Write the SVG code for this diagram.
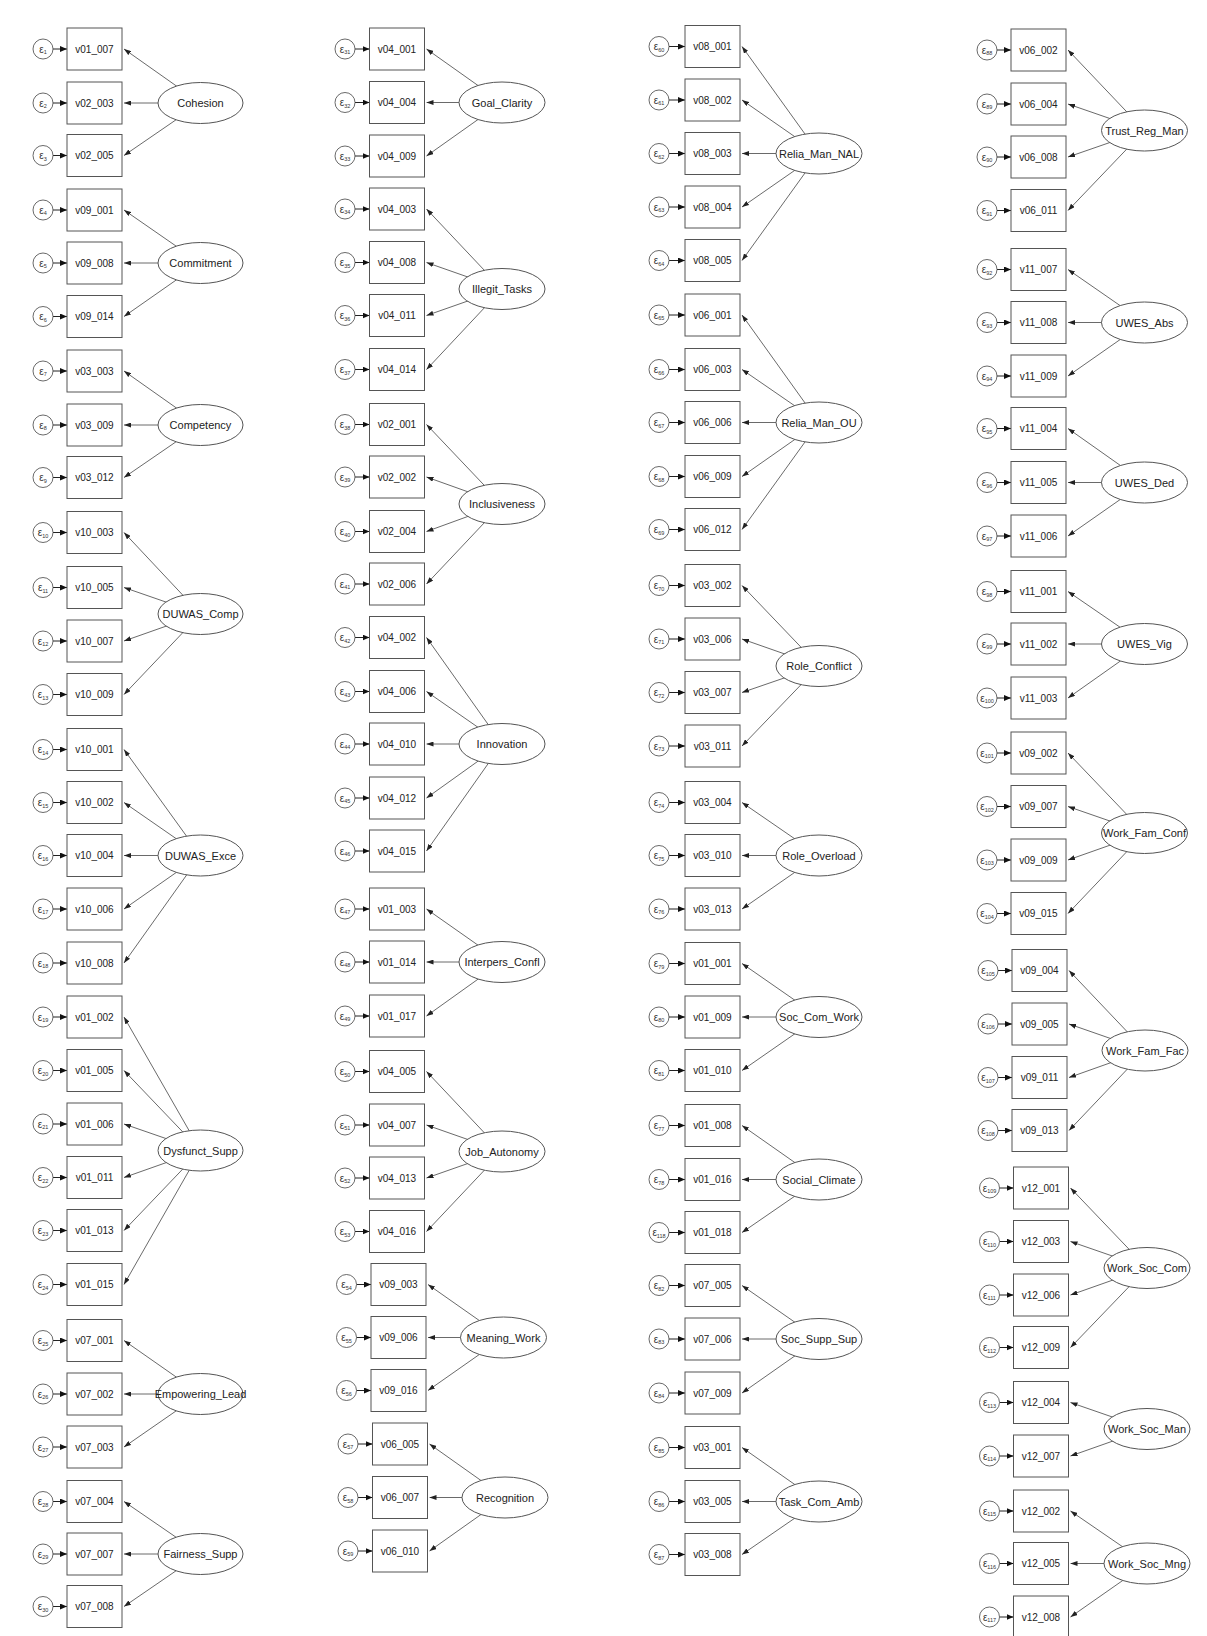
<svg xmlns="http://www.w3.org/2000/svg" width="1207" height="1636" viewBox="0 0 1207 1636">
<style>
.b{fill:#fff;stroke:#555;stroke-width:1}
.t{font-family:"Liberation Sans",Arial,sans-serif;font-size:10px;fill:#222;text-anchor:middle}
.c{fill:#fff;stroke:#444;stroke-width:0.8}
.et{font-family:"Liberation Sans",Arial,sans-serif;font-size:10px;fill:#333;text-anchor:middle}
.s{font-size:5.5px}
.l{fill:#fff;stroke:#555;stroke-width:1}
.lt{font-family:"Liberation Sans",Arial,sans-serif;font-size:11px;fill:#222;text-anchor:middle}
.k line{stroke:#444;stroke-width:0.8;marker-end:url(#ah)}
.ke line{stroke:#222;stroke-width:1;marker-end:url(#ah2)}
</style>
<defs>
<marker id="ah" markerUnits="userSpaceOnUse" markerWidth="7" markerHeight="5" viewBox="0 0 7 5" refX="7" refY="2.5" orient="auto"><path d="M0,0L7,2.5L0,5z" fill="#222"/></marker>
<marker id="ah2" markerUnits="userSpaceOnUse" markerWidth="7" markerHeight="6" viewBox="0 0 7 6" refX="7" refY="3" orient="auto"><path d="M0,0L7,3L0,6z" fill="#111"/></marker>
</defs>
<rect width="1207" height="1636" fill="#fff"/>
<g id="connectors">
<g class="k">
<line x1="200.5" y1="103" x2="124" y2="49"/><line x1="200.5" y1="103" x2="124" y2="103"/><line x1="200.5" y1="103" x2="124" y2="155.5"/>
<line x1="200.5" y1="263" x2="124" y2="210"/><line x1="200.5" y1="263" x2="124" y2="263"/><line x1="200.5" y1="263" x2="124" y2="316.5"/>
<line x1="200.5" y1="425" x2="124" y2="371"/><line x1="200.5" y1="425" x2="124" y2="425"/><line x1="200.5" y1="425" x2="124" y2="477.5"/>
<line x1="200.5" y1="614" x2="124" y2="532.5"/><line x1="200.5" y1="614" x2="124" y2="587.5"/><line x1="200.5" y1="614" x2="124" y2="641"/><line x1="200.5" y1="614" x2="124" y2="694.5"/>
<line x1="200.5" y1="855.5" x2="124" y2="749.5"/><line x1="200.5" y1="855.5" x2="124" y2="802.5"/><line x1="200.5" y1="855.5" x2="124" y2="855.5"/><line x1="200.5" y1="855.5" x2="124" y2="909"/><line x1="200.5" y1="855.5" x2="124" y2="963"/>
<line x1="200.5" y1="1150.5" x2="124" y2="1017"/><line x1="200.5" y1="1150.5" x2="124" y2="1070.5"/><line x1="200.5" y1="1150.5" x2="124" y2="1124"/><line x1="200.5" y1="1150.5" x2="124" y2="1177.5"/><line x1="200.5" y1="1150.5" x2="124" y2="1230.5"/><line x1="200.5" y1="1150.5" x2="124" y2="1284.5"/>
<line x1="200.5" y1="1394" x2="124" y2="1340.5"/><line x1="200.5" y1="1394" x2="124" y2="1394"/><line x1="200.5" y1="1394" x2="124" y2="1447"/>
<line x1="200.5" y1="1554" x2="124" y2="1501.5"/><line x1="200.5" y1="1554" x2="124" y2="1554"/><line x1="200.5" y1="1554" x2="124" y2="1606.5"/>

<line x1="502" y1="102.5" x2="426.5" y2="49"/><line x1="502" y1="102.5" x2="426.5" y2="102.5"/><line x1="502" y1="102.5" x2="426.5" y2="156"/>
<line x1="502" y1="289" x2="426.5" y2="209"/><line x1="502" y1="289" x2="426.5" y2="262.5"/><line x1="502" y1="289" x2="426.5" y2="315.5"/><line x1="502" y1="289" x2="426.5" y2="369.5"/>
<line x1="502" y1="504" x2="426.5" y2="424.5"/><line x1="502" y1="504" x2="426.5" y2="477"/><line x1="502" y1="504" x2="426.5" y2="531.5"/><line x1="502" y1="504" x2="426.5" y2="584"/>
<line x1="502" y1="744" x2="426.5" y2="637.5"/><line x1="502" y1="744" x2="426.5" y2="691.5"/><line x1="502" y1="744" x2="426.5" y2="744"/><line x1="502" y1="744" x2="426.5" y2="798"/><line x1="502" y1="744" x2="426.5" y2="851"/>
<line x1="502" y1="962" x2="426.5" y2="909"/><line x1="502" y1="962" x2="426.5" y2="962"/><line x1="502" y1="962" x2="426.5" y2="1016"/>
<line x1="502" y1="1151.5" x2="426.5" y2="1071.5"/><line x1="502" y1="1151.5" x2="426.5" y2="1125"/><line x1="502" y1="1151.5" x2="426.5" y2="1178"/><line x1="502" y1="1151.5" x2="426.5" y2="1231.5"/>
<line x1="503.5" y1="1337.5" x2="428" y2="1284.5"/><line x1="503.5" y1="1337.5" x2="428" y2="1337.5"/><line x1="503.5" y1="1337.5" x2="428" y2="1390.5"/>
<line x1="505" y1="1497.5" x2="429.5" y2="1444"/><line x1="505" y1="1497.5" x2="429.5" y2="1497.5"/><line x1="505" y1="1497.5" x2="429.5" y2="1551"/>

<line x1="819" y1="153.5" x2="742" y2="46.5"/><line x1="819" y1="153.5" x2="742" y2="100"/><line x1="819" y1="153.5" x2="742" y2="153.5"/><line x1="819" y1="153.5" x2="742" y2="207"/><line x1="819" y1="153.5" x2="742" y2="260.5"/>
<line x1="819" y1="422.5" x2="742" y2="315"/><line x1="819" y1="422.5" x2="742" y2="369.5"/><line x1="819" y1="422.5" x2="742" y2="422.5"/><line x1="819" y1="422.5" x2="742" y2="476.5"/><line x1="819" y1="422.5" x2="742" y2="529.5"/>
<line x1="819" y1="666" x2="742" y2="585.5"/><line x1="819" y1="666" x2="742" y2="639"/><line x1="819" y1="666" x2="742" y2="692.5"/><line x1="819" y1="666" x2="742" y2="746"/>
<line x1="819" y1="855.5" x2="742" y2="802.5"/><line x1="819" y1="855.5" x2="742" y2="855.5"/><line x1="819" y1="855.5" x2="742" y2="909"/>
<line x1="819" y1="1017" x2="742" y2="963.5"/><line x1="819" y1="1017" x2="742" y2="1017"/><line x1="819" y1="1017" x2="742" y2="1070.5"/>
<line x1="819" y1="1179.5" x2="742" y2="1125.5"/><line x1="819" y1="1179.5" x2="742" y2="1179.5"/><line x1="819" y1="1179.5" x2="742" y2="1232.5"/>
<line x1="819" y1="1339" x2="742" y2="1285.5"/><line x1="819" y1="1339" x2="742" y2="1339"/><line x1="819" y1="1339" x2="742" y2="1393"/>
<line x1="819" y1="1501.5" x2="742" y2="1447.5"/><line x1="819" y1="1501.5" x2="742" y2="1501.5"/><line x1="819" y1="1501.5" x2="742" y2="1554.5"/>

<line x1="1144.5" y1="130.5" x2="1068" y2="50"/><line x1="1144.5" y1="130.5" x2="1068" y2="104"/><line x1="1144.5" y1="130.5" x2="1068" y2="157"/><line x1="1144.5" y1="130.5" x2="1068" y2="210.5"/>
<line x1="1144.5" y1="322.5" x2="1068" y2="269.5"/><line x1="1144.5" y1="322.5" x2="1068" y2="322.5"/><line x1="1144.5" y1="322.5" x2="1068" y2="376"/>
<line x1="1144.5" y1="482.5" x2="1068" y2="428.5"/><line x1="1144.5" y1="482.5" x2="1068" y2="482.5"/><line x1="1144.5" y1="482.5" x2="1068" y2="536"/>
<line x1="1144.5" y1="644" x2="1068" y2="591.5"/><line x1="1144.5" y1="644" x2="1068" y2="644"/><line x1="1144.5" y1="644" x2="1068" y2="698"/>
<line x1="1144.5" y1="833" x2="1068" y2="753"/><line x1="1144.5" y1="833" x2="1068" y2="806.5"/><line x1="1144.5" y1="833" x2="1068" y2="860"/><line x1="1144.5" y1="833" x2="1068" y2="913.5"/>
<line x1="1145" y1="1050.5" x2="1069" y2="970.5"/><line x1="1145" y1="1050.5" x2="1069" y2="1024"/><line x1="1145" y1="1050.5" x2="1069" y2="1077.5"/><line x1="1145" y1="1050.5" x2="1069" y2="1130.5"/>
<line x1="1147" y1="1268" x2="1070.5" y2="1188"/><line x1="1147" y1="1268" x2="1070.5" y2="1241.5"/><line x1="1147" y1="1268" x2="1070.5" y2="1295"/><line x1="1147" y1="1268" x2="1070.5" y2="1347.5"/>
<line x1="1147" y1="1429" x2="1070.5" y2="1402.5"/><line x1="1147" y1="1429" x2="1070.5" y2="1456"/>
<line x1="1147" y1="1563.5" x2="1070.5" y2="1511"/><line x1="1147" y1="1563.5" x2="1070.5" y2="1563.5"/><line x1="1147" y1="1563.5" x2="1070.5" y2="1617"/>
</g>
<g class="ke">
<line x1="53" y1="49" x2="67" y2="49"/><line x1="53" y1="103" x2="67" y2="103"/><line x1="53" y1="155.5" x2="67" y2="155.5"/><line x1="53" y1="210" x2="67" y2="210"/><line x1="53" y1="263" x2="67" y2="263"/><line x1="53" y1="316.5" x2="67" y2="316.5"/><line x1="53" y1="371" x2="67" y2="371"/><line x1="53" y1="425" x2="67" y2="425"/><line x1="53" y1="477.5" x2="67" y2="477.5"/><line x1="53" y1="532.5" x2="67" y2="532.5"/><line x1="53" y1="587.5" x2="67" y2="587.5"/><line x1="53" y1="641" x2="67" y2="641"/><line x1="53" y1="694.5" x2="67" y2="694.5"/><line x1="53" y1="749.5" x2="67" y2="749.5"/><line x1="53" y1="802.5" x2="67" y2="802.5"/><line x1="53" y1="855.5" x2="67" y2="855.5"/><line x1="53" y1="909" x2="67" y2="909"/><line x1="53" y1="963" x2="67" y2="963"/><line x1="53" y1="1017" x2="67" y2="1017"/><line x1="53" y1="1070.5" x2="67" y2="1070.5"/><line x1="53" y1="1124" x2="67" y2="1124"/><line x1="53" y1="1177.5" x2="67" y2="1177.5"/><line x1="53" y1="1230.5" x2="67" y2="1230.5"/><line x1="53" y1="1284.5" x2="67" y2="1284.5"/><line x1="53" y1="1340.5" x2="67" y2="1340.5"/><line x1="53" y1="1394" x2="67" y2="1394"/><line x1="53" y1="1447" x2="67" y2="1447"/><line x1="53" y1="1501.5" x2="67" y2="1501.5"/><line x1="53" y1="1554" x2="67" y2="1554"/><line x1="53" y1="1606.5" x2="67" y2="1606.5"/>
<line x1="355" y1="49" x2="369.5" y2="49"/><line x1="355" y1="102.5" x2="369.5" y2="102.5"/><line x1="355" y1="156" x2="369.5" y2="156"/><line x1="355" y1="209" x2="369.5" y2="209"/><line x1="355" y1="262.5" x2="369.5" y2="262.5"/><line x1="355" y1="315.5" x2="369.5" y2="315.5"/><line x1="355" y1="369.5" x2="369.5" y2="369.5"/><line x1="355" y1="424.5" x2="369.5" y2="424.5"/><line x1="355" y1="477" x2="369.5" y2="477"/><line x1="355" y1="531.5" x2="369.5" y2="531.5"/><line x1="355" y1="584" x2="369.5" y2="584"/><line x1="355" y1="637.5" x2="369.5" y2="637.5"/><line x1="355" y1="691.5" x2="369.5" y2="691.5"/><line x1="355" y1="744" x2="369.5" y2="744"/><line x1="355" y1="798" x2="369.5" y2="798"/><line x1="355" y1="851" x2="369.5" y2="851"/><line x1="355" y1="909" x2="369.5" y2="909"/><line x1="355" y1="962" x2="369.5" y2="962"/><line x1="355" y1="1016" x2="369.5" y2="1016"/><line x1="355" y1="1071.5" x2="369.5" y2="1071.5"/><line x1="355" y1="1125" x2="369.5" y2="1125"/><line x1="355" y1="1178" x2="369.5" y2="1178"/><line x1="355" y1="1231.5" x2="369.5" y2="1231.5"/><line x1="356.5" y1="1284.5" x2="371" y2="1284.5"/><line x1="356.5" y1="1337.5" x2="371" y2="1337.5"/><line x1="356.5" y1="1390.5" x2="371" y2="1390.5"/><line x1="358" y1="1444" x2="372.5" y2="1444"/><line x1="358" y1="1497.5" x2="372.5" y2="1497.5"/><line x1="358" y1="1551" x2="372.5" y2="1551"/>
<line x1="669" y1="46.5" x2="685" y2="46.5"/><line x1="669" y1="100" x2="685" y2="100"/><line x1="669" y1="153.5" x2="685" y2="153.5"/><line x1="669" y1="207" x2="685" y2="207"/><line x1="669" y1="260.5" x2="685" y2="260.5"/><line x1="669" y1="315" x2="685" y2="315"/><line x1="669" y1="369.5" x2="685" y2="369.5"/><line x1="669" y1="422.5" x2="685" y2="422.5"/><line x1="669" y1="476.5" x2="685" y2="476.5"/><line x1="669" y1="529.5" x2="685" y2="529.5"/><line x1="669" y1="585.5" x2="685" y2="585.5"/><line x1="669" y1="639" x2="685" y2="639"/><line x1="669" y1="692.5" x2="685" y2="692.5"/><line x1="669" y1="746" x2="685" y2="746"/><line x1="669" y1="802.5" x2="685" y2="802.5"/><line x1="669" y1="855.5" x2="685" y2="855.5"/><line x1="669" y1="909" x2="685" y2="909"/><line x1="669" y1="963.5" x2="685" y2="963.5"/><line x1="669" y1="1017" x2="685" y2="1017"/><line x1="669" y1="1070.5" x2="685" y2="1070.5"/><line x1="669" y1="1125.5" x2="685" y2="1125.5"/><line x1="669" y1="1179.5" x2="685" y2="1179.5"/><line x1="669" y1="1232.5" x2="685" y2="1232.5"/><line x1="669" y1="1285.5" x2="685" y2="1285.5"/><line x1="669" y1="1339" x2="685" y2="1339"/><line x1="669" y1="1393" x2="685" y2="1393"/><line x1="669" y1="1447.5" x2="685" y2="1447.5"/><line x1="669" y1="1501.5" x2="685" y2="1501.5"/><line x1="669" y1="1554.5" x2="685" y2="1554.5"/>
<line x1="997" y1="50" x2="1011" y2="50"/><line x1="997" y1="104" x2="1011" y2="104"/><line x1="997" y1="157" x2="1011" y2="157"/><line x1="997" y1="210.5" x2="1011" y2="210.5"/><line x1="997" y1="269.5" x2="1011" y2="269.5"/><line x1="997" y1="322.5" x2="1011" y2="322.5"/><line x1="997" y1="376" x2="1011" y2="376"/><line x1="997" y1="428.5" x2="1011" y2="428.5"/><line x1="997" y1="482.5" x2="1011" y2="482.5"/><line x1="997" y1="536" x2="1011" y2="536"/><line x1="997" y1="591.5" x2="1011" y2="591.5"/><line x1="997" y1="644" x2="1011" y2="644"/><line x1="997" y1="698" x2="1011" y2="698"/><line x1="997" y1="753" x2="1011" y2="753"/><line x1="997" y1="806.5" x2="1011" y2="806.5"/><line x1="997" y1="860" x2="1011" y2="860"/><line x1="997" y1="913.5" x2="1011" y2="913.5"/><line x1="998" y1="970.5" x2="1012" y2="970.5"/><line x1="998" y1="1024" x2="1012" y2="1024"/><line x1="998" y1="1077.5" x2="1012" y2="1077.5"/><line x1="998" y1="1130.5" x2="1012" y2="1130.5"/><line x1="999.5" y1="1188" x2="1013.5" y2="1188"/><line x1="999.5" y1="1241.5" x2="1013.5" y2="1241.5"/><line x1="999.5" y1="1295" x2="1013.5" y2="1295"/><line x1="999.5" y1="1347.5" x2="1013.5" y2="1347.5"/><line x1="999.5" y1="1402.5" x2="1013.5" y2="1402.5"/><line x1="999.5" y1="1456" x2="1013.5" y2="1456"/><line x1="999.5" y1="1511" x2="1013.5" y2="1511"/><line x1="999.5" y1="1563.5" x2="1013.5" y2="1563.5"/><line x1="999.5" y1="1617" x2="1013.5" y2="1617"/>
</g>
</g>

<g id="latent">
<g id="Cohesion"><ellipse class="l" cx="200.5" cy="103" rx="42.5" ry="20.5"/><text class="lt" x="200.5" y="107">Cohesion</text></g>
<g id="Commitment"><ellipse class="l" cx="200.5" cy="263" rx="42.5" ry="20.5"/><text class="lt" x="200.5" y="267">Commitment</text></g>
<g id="Competency"><ellipse class="l" cx="200.5" cy="425" rx="42.5" ry="20.5"/><text class="lt" x="200.5" y="429">Competency</text></g>
<g id="DUWAS_Comp"><ellipse class="l" cx="200.5" cy="614" rx="42.5" ry="20.5"/><text class="lt" x="200.5" y="618">DUWAS_Comp</text></g>
<g id="DUWAS_Exce"><ellipse class="l" cx="200.5" cy="855.5" rx="42.5" ry="20.5"/><text class="lt" x="200.5" y="859.5">DUWAS_Exce</text></g>
<g id="Dysfunct_Supp"><ellipse class="l" cx="200.5" cy="1150.5" rx="42.5" ry="20.5"/><text class="lt" x="200.5" y="1154.5">Dysfunct_Supp</text></g>
<g id="Empowering_Lead"><ellipse class="l" cx="200.5" cy="1394" rx="42.5" ry="20.5"/><text class="lt" x="200.5" y="1398">Empowering_Lead</text></g>
<g id="Fairness_Supp"><ellipse class="l" cx="200.5" cy="1554" rx="42.5" ry="20.5"/><text class="lt" x="200.5" y="1558">Fairness_Supp</text></g>
<g id="Goal_Clarity"><ellipse class="l" cx="502" cy="102.5" rx="43" ry="20.5"/><text class="lt" x="502" y="106.5">Goal_Clarity</text></g>
<g id="Illegit_Tasks"><ellipse class="l" cx="502" cy="289" rx="43" ry="20.5"/><text class="lt" x="502" y="293">Illegit_Tasks</text></g>
<g id="Inclusiveness"><ellipse class="l" cx="502" cy="504" rx="43" ry="20.5"/><text class="lt" x="502" y="508">Inclusiveness</text></g>
<g id="Innovation"><ellipse class="l" cx="502" cy="744" rx="43" ry="20.5"/><text class="lt" x="502" y="748">Innovation</text></g>
<g id="Interpers_Confl"><ellipse class="l" cx="502" cy="962" rx="43" ry="20.5"/><text class="lt" x="502" y="966">Interpers_Confl</text></g>
<g id="Job_Autonomy"><ellipse class="l" cx="502" cy="1151.5" rx="43" ry="20.5"/><text class="lt" x="502" y="1155.5">Job_Autonomy</text></g>
<g id="Meaning_Work"><ellipse class="l" cx="503.5" cy="1337.5" rx="43" ry="20.5"/><text class="lt" x="503.5" y="1341.5">Meaning_Work</text></g>
<g id="Recognition"><ellipse class="l" cx="505" cy="1497.5" rx="43" ry="20.5"/><text class="lt" x="505" y="1501.5">Recognition</text></g>
<g id="Relia_Man_NAL"><ellipse class="l" cx="819" cy="153.5" rx="43" ry="20.5"/><text class="lt" x="819" y="157.5">Relia_Man_NAL</text></g>
<g id="Relia_Man_OU"><ellipse class="l" cx="819" cy="422.5" rx="43" ry="20.5"/><text class="lt" x="819" y="426.5">Relia_Man_OU</text></g>
<g id="Role_Conflict"><ellipse class="l" cx="819" cy="666" rx="43" ry="20.5"/><text class="lt" x="819" y="670">Role_Conflict</text></g>
<g id="Role_Overload"><ellipse class="l" cx="819" cy="855.5" rx="43" ry="20.5"/><text class="lt" x="819" y="859.5">Role_Overload</text></g>
<g id="Soc_Com_Work"><ellipse class="l" cx="819" cy="1017" rx="43" ry="20.5"/><text class="lt" x="819" y="1021">Soc_Com_Work</text></g>
<g id="Social_Climate"><ellipse class="l" cx="819" cy="1179.5" rx="43" ry="20.5"/><text class="lt" x="819" y="1183.5">Social_Climate</text></g>
<g id="Soc_Supp_Sup"><ellipse class="l" cx="819" cy="1339" rx="43" ry="20.5"/><text class="lt" x="819" y="1343">Soc_Supp_Sup</text></g>
<g id="Task_Com_Amb"><ellipse class="l" cx="819" cy="1501.5" rx="43" ry="20.5"/><text class="lt" x="819" y="1505.5">Task_Com_Amb</text></g>
<g id="Trust_Reg_Man"><ellipse class="l" cx="1144.5" cy="130.5" rx="43" ry="20.5"/><text class="lt" x="1144.5" y="134.5">Trust_Reg_Man</text></g>
<g id="UWES_Abs"><ellipse class="l" cx="1144.5" cy="322.5" rx="43" ry="20.5"/><text class="lt" x="1144.5" y="326.5">UWES_Abs</text></g>
<g id="UWES_Ded"><ellipse class="l" cx="1144.5" cy="482.5" rx="43" ry="20.5"/><text class="lt" x="1144.5" y="486.5">UWES_Ded</text></g>
<g id="UWES_Vig"><ellipse class="l" cx="1144.5" cy="644" rx="43" ry="20.5"/><text class="lt" x="1144.5" y="648">UWES_Vig</text></g>
<g id="Work_Fam_Conf"><ellipse class="l" cx="1144.5" cy="833" rx="43" ry="20.5"/><text class="lt" x="1144.5" y="837">Work_Fam_Conf</text></g>
<g id="Work_Fam_Fac"><ellipse class="l" cx="1145" cy="1050.5" rx="43" ry="20.5"/><text class="lt" x="1145" y="1054.5">Work_Fam_Fac</text></g>
<g id="Work_Soc_Com"><ellipse class="l" cx="1147" cy="1268" rx="43" ry="20.5"/><text class="lt" x="1147" y="1272">Work_Soc_Com</text></g>
<g id="Work_Soc_Man"><ellipse class="l" cx="1147" cy="1429" rx="43" ry="20.5"/><text class="lt" x="1147" y="1433">Work_Soc_Man</text></g>
<g id="Work_Soc_Mng"><ellipse class="l" cx="1147" cy="1563.5" rx="43" ry="20.5"/><text class="lt" x="1147" y="1567.5">Work_Soc_Mng</text></g>
</g>

<g id="observed">
<g id="o_v01_007" transform="translate(67,49)"><rect class="b" y="-21" width="55" height="42"/><text class="t" x="27.5" y="3.5">v01_007</text></g>
<g id="o_v02_003" transform="translate(67,103)"><rect class="b" y="-21" width="55" height="42"/><text class="t" x="27.5" y="3.5">v02_003</text></g>
<g id="o_v02_005" transform="translate(67,155.5)"><rect class="b" y="-21" width="55" height="42"/><text class="t" x="27.5" y="3.5">v02_005</text></g>
<g id="o_v09_001" transform="translate(67,210)"><rect class="b" y="-21" width="55" height="42"/><text class="t" x="27.5" y="3.5">v09_001</text></g>
<g id="o_v09_008" transform="translate(67,263)"><rect class="b" y="-21" width="55" height="42"/><text class="t" x="27.5" y="3.5">v09_008</text></g>
<g id="o_v09_014" transform="translate(67,316.5)"><rect class="b" y="-21" width="55" height="42"/><text class="t" x="27.5" y="3.5">v09_014</text></g>
<g id="o_v03_003" transform="translate(67,371)"><rect class="b" y="-21" width="55" height="42"/><text class="t" x="27.5" y="3.5">v03_003</text></g>
<g id="o_v03_009" transform="translate(67,425)"><rect class="b" y="-21" width="55" height="42"/><text class="t" x="27.5" y="3.5">v03_009</text></g>
<g id="o_v03_012" transform="translate(67,477.5)"><rect class="b" y="-21" width="55" height="42"/><text class="t" x="27.5" y="3.5">v03_012</text></g>
<g id="o_v10_003" transform="translate(67,532.5)"><rect class="b" y="-21" width="55" height="42"/><text class="t" x="27.5" y="3.5">v10_003</text></g>
<g id="o_v10_005" transform="translate(67,587.5)"><rect class="b" y="-21" width="55" height="42"/><text class="t" x="27.5" y="3.5">v10_005</text></g>
<g id="o_v10_007" transform="translate(67,641)"><rect class="b" y="-21" width="55" height="42"/><text class="t" x="27.5" y="3.5">v10_007</text></g>
<g id="o_v10_009" transform="translate(67,694.5)"><rect class="b" y="-21" width="55" height="42"/><text class="t" x="27.5" y="3.5">v10_009</text></g>
<g id="o_v10_001" transform="translate(67,749.5)"><rect class="b" y="-21" width="55" height="42"/><text class="t" x="27.5" y="3.5">v10_001</text></g>
<g id="o_v10_002" transform="translate(67,802.5)"><rect class="b" y="-21" width="55" height="42"/><text class="t" x="27.5" y="3.5">v10_002</text></g>
<g id="o_v10_004" transform="translate(67,855.5)"><rect class="b" y="-21" width="55" height="42"/><text class="t" x="27.5" y="3.5">v10_004</text></g>
<g id="o_v10_006" transform="translate(67,909)"><rect class="b" y="-21" width="55" height="42"/><text class="t" x="27.5" y="3.5">v10_006</text></g>
<g id="o_v10_008" transform="translate(67,963)"><rect class="b" y="-21" width="55" height="42"/><text class="t" x="27.5" y="3.5">v10_008</text></g>
<g id="o_v01_002" transform="translate(67,1017)"><rect class="b" y="-21" width="55" height="42"/><text class="t" x="27.5" y="3.5">v01_002</text></g>
<g id="o_v01_005" transform="translate(67,1070.5)"><rect class="b" y="-21" width="55" height="42"/><text class="t" x="27.5" y="3.5">v01_005</text></g>
<g id="o_v01_006" transform="translate(67,1124)"><rect class="b" y="-21" width="55" height="42"/><text class="t" x="27.5" y="3.5">v01_006</text></g>
<g id="o_v01_011" transform="translate(67,1177.5)"><rect class="b" y="-21" width="55" height="42"/><text class="t" x="27.5" y="3.5">v01_011</text></g>
<g id="o_v01_013" transform="translate(67,1230.5)"><rect class="b" y="-21" width="55" height="42"/><text class="t" x="27.5" y="3.5">v01_013</text></g>
<g id="o_v01_015" transform="translate(67,1284.5)"><rect class="b" y="-21" width="55" height="42"/><text class="t" x="27.5" y="3.5">v01_015</text></g>
<g id="o_v07_001" transform="translate(67,1340.5)"><rect class="b" y="-21" width="55" height="42"/><text class="t" x="27.5" y="3.5">v07_001</text></g>
<g id="o_v07_002" transform="translate(67,1394)"><rect class="b" y="-21" width="55" height="42"/><text class="t" x="27.5" y="3.5">v07_002</text></g>
<g id="o_v07_003" transform="translate(67,1447)"><rect class="b" y="-21" width="55" height="42"/><text class="t" x="27.5" y="3.5">v07_003</text></g>
<g id="o_v07_004" transform="translate(67,1501.5)"><rect class="b" y="-21" width="55" height="42"/><text class="t" x="27.5" y="3.5">v07_004</text></g>
<g id="o_v07_007" transform="translate(67,1554)"><rect class="b" y="-21" width="55" height="42"/><text class="t" x="27.5" y="3.5">v07_007</text></g>
<g id="o_v07_008" transform="translate(67,1606.5)"><rect class="b" y="-21" width="55" height="42"/><text class="t" x="27.5" y="3.5">v07_008</text></g>

<g id="o_v04_001" transform="translate(369.5,49)"><rect class="b" y="-21" width="55" height="42"/><text class="t" x="27.5" y="3.5">v04_001</text></g>
<g id="o_v04_004" transform="translate(369.5,102.5)"><rect class="b" y="-21" width="55" height="42"/><text class="t" x="27.5" y="3.5">v04_004</text></g>
<g id="o_v04_009" transform="translate(369.5,156)"><rect class="b" y="-21" width="55" height="42"/><text class="t" x="27.5" y="3.5">v04_009</text></g>
<g id="o_v04_003" transform="translate(369.5,209)"><rect class="b" y="-21" width="55" height="42"/><text class="t" x="27.5" y="3.5">v04_003</text></g>
<g id="o_v04_008" transform="translate(369.5,262.5)"><rect class="b" y="-21" width="55" height="42"/><text class="t" x="27.5" y="3.5">v04_008</text></g>
<g id="o_v04_011" transform="translate(369.5,315.5)"><rect class="b" y="-21" width="55" height="42"/><text class="t" x="27.5" y="3.5">v04_011</text></g>
<g id="o_v04_014" transform="translate(369.5,369.5)"><rect class="b" y="-21" width="55" height="42"/><text class="t" x="27.5" y="3.5">v04_014</text></g>
<g id="o_v02_001" transform="translate(369.5,424.5)"><rect class="b" y="-21" width="55" height="42"/><text class="t" x="27.5" y="3.5">v02_001</text></g>
<g id="o_v02_002" transform="translate(369.5,477)"><rect class="b" y="-21" width="55" height="42"/><text class="t" x="27.5" y="3.5">v02_002</text></g>
<g id="o_v02_004" transform="translate(369.5,531.5)"><rect class="b" y="-21" width="55" height="42"/><text class="t" x="27.5" y="3.5">v02_004</text></g>
<g id="o_v02_006" transform="translate(369.5,584)"><rect class="b" y="-21" width="55" height="42"/><text class="t" x="27.5" y="3.5">v02_006</text></g>
<g id="o_v04_002" transform="translate(369.5,637.5)"><rect class="b" y="-21" width="55" height="42"/><text class="t" x="27.5" y="3.5">v04_002</text></g>
<g id="o_v04_006" transform="translate(369.5,691.5)"><rect class="b" y="-21" width="55" height="42"/><text class="t" x="27.5" y="3.5">v04_006</text></g>
<g id="o_v04_010" transform="translate(369.5,744)"><rect class="b" y="-21" width="55" height="42"/><text class="t" x="27.5" y="3.5">v04_010</text></g>
<g id="o_v04_012" transform="translate(369.5,798)"><rect class="b" y="-21" width="55" height="42"/><text class="t" x="27.5" y="3.5">v04_012</text></g>
<g id="o_v04_015" transform="translate(369.5,851)"><rect class="b" y="-21" width="55" height="42"/><text class="t" x="27.5" y="3.5">v04_015</text></g>
<g id="o_v01_003" transform="translate(369.5,909)"><rect class="b" y="-21" width="55" height="42"/><text class="t" x="27.5" y="3.5">v01_003</text></g>
<g id="o_v01_014" transform="translate(369.5,962)"><rect class="b" y="-21" width="55" height="42"/><text class="t" x="27.5" y="3.5">v01_014</text></g>
<g id="o_v01_017" transform="translate(369.5,1016)"><rect class="b" y="-21" width="55" height="42"/><text class="t" x="27.5" y="3.5">v01_017</text></g>
<g id="o_v04_005" transform="translate(369.5,1071.5)"><rect class="b" y="-21" width="55" height="42"/><text class="t" x="27.5" y="3.5">v04_005</text></g>
<g id="o_v04_007" transform="translate(369.5,1125)"><rect class="b" y="-21" width="55" height="42"/><text class="t" x="27.5" y="3.5">v04_007</text></g>
<g id="o_v04_013" transform="translate(369.5,1178)"><rect class="b" y="-21" width="55" height="42"/><text class="t" x="27.5" y="3.5">v04_013</text></g>
<g id="o_v04_016" transform="translate(369.5,1231.5)"><rect class="b" y="-21" width="55" height="42"/><text class="t" x="27.5" y="3.5">v04_016</text></g>
<g id="o_v09_003" transform="translate(371,1284.5)"><rect class="b" y="-21" width="55" height="42"/><text class="t" x="27.5" y="3.5">v09_003</text></g>
<g id="o_v09_006" transform="translate(371,1337.5)"><rect class="b" y="-21" width="55" height="42"/><text class="t" x="27.5" y="3.5">v09_006</text></g>
<g id="o_v09_016" transform="translate(371,1390.5)"><rect class="b" y="-21" width="55" height="42"/><text class="t" x="27.5" y="3.5">v09_016</text></g>
<g id="o_v06_005" transform="translate(372.5,1444)"><rect class="b" y="-21" width="55" height="42"/><text class="t" x="27.5" y="3.5">v06_005</text></g>
<g id="o_v06_007" transform="translate(372.5,1497.5)"><rect class="b" y="-21" width="55" height="42"/><text class="t" x="27.5" y="3.5">v06_007</text></g>
<g id="o_v06_010" transform="translate(372.5,1551)"><rect class="b" y="-21" width="55" height="42"/><text class="t" x="27.5" y="3.5">v06_010</text></g>

<g id="o_v08_001" transform="translate(685,46.5)"><rect class="b" y="-21" width="55" height="42"/><text class="t" x="27.5" y="3.5">v08_001</text></g>
<g id="o_v08_002" transform="translate(685,100)"><rect class="b" y="-21" width="55" height="42"/><text class="t" x="27.5" y="3.5">v08_002</text></g>
<g id="o_v08_003" transform="translate(685,153.5)"><rect class="b" y="-21" width="55" height="42"/><text class="t" x="27.5" y="3.5">v08_003</text></g>
<g id="o_v08_004" transform="translate(685,207)"><rect class="b" y="-21" width="55" height="42"/><text class="t" x="27.5" y="3.5">v08_004</text></g>
<g id="o_v08_005" transform="translate(685,260.5)"><rect class="b" y="-21" width="55" height="42"/><text class="t" x="27.5" y="3.5">v08_005</text></g>
<g id="o_v06_001" transform="translate(685,315)"><rect class="b" y="-21" width="55" height="42"/><text class="t" x="27.5" y="3.5">v06_001</text></g>
<g id="o_v06_003" transform="translate(685,369.5)"><rect class="b" y="-21" width="55" height="42"/><text class="t" x="27.5" y="3.5">v06_003</text></g>
<g id="o_v06_006" transform="translate(685,422.5)"><rect class="b" y="-21" width="55" height="42"/><text class="t" x="27.5" y="3.5">v06_006</text></g>
<g id="o_v06_009" transform="translate(685,476.5)"><rect class="b" y="-21" width="55" height="42"/><text class="t" x="27.5" y="3.5">v06_009</text></g>
<g id="o_v06_012" transform="translate(685,529.5)"><rect class="b" y="-21" width="55" height="42"/><text class="t" x="27.5" y="3.5">v06_012</text></g>
<g id="o_v03_002" transform="translate(685,585.5)"><rect class="b" y="-21" width="55" height="42"/><text class="t" x="27.5" y="3.5">v03_002</text></g>
<g id="o_v03_006" transform="translate(685,639)"><rect class="b" y="-21" width="55" height="42"/><text class="t" x="27.5" y="3.5">v03_006</text></g>
<g id="o_v03_007" transform="translate(685,692.5)"><rect class="b" y="-21" width="55" height="42"/><text class="t" x="27.5" y="3.5">v03_007</text></g>
<g id="o_v03_011" transform="translate(685,746)"><rect class="b" y="-21" width="55" height="42"/><text class="t" x="27.5" y="3.5">v03_011</text></g>
<g id="o_v03_004" transform="translate(685,802.5)"><rect class="b" y="-21" width="55" height="42"/><text class="t" x="27.5" y="3.5">v03_004</text></g>
<g id="o_v03_010" transform="translate(685,855.5)"><rect class="b" y="-21" width="55" height="42"/><text class="t" x="27.5" y="3.5">v03_010</text></g>
<g id="o_v03_013" transform="translate(685,909)"><rect class="b" y="-21" width="55" height="42"/><text class="t" x="27.5" y="3.5">v03_013</text></g>
<g id="o_v01_001" transform="translate(685,963.5)"><rect class="b" y="-21" width="55" height="42"/><text class="t" x="27.5" y="3.5">v01_001</text></g>
<g id="o_v01_009" transform="translate(685,1017)"><rect class="b" y="-21" width="55" height="42"/><text class="t" x="27.5" y="3.5">v01_009</text></g>
<g id="o_v01_010" transform="translate(685,1070.5)"><rect class="b" y="-21" width="55" height="42"/><text class="t" x="27.5" y="3.5">v01_010</text></g>
<g id="o_v01_008" transform="translate(685,1125.5)"><rect class="b" y="-21" width="55" height="42"/><text class="t" x="27.5" y="3.5">v01_008</text></g>
<g id="o_v01_016" transform="translate(685,1179.5)"><rect class="b" y="-21" width="55" height="42"/><text class="t" x="27.5" y="3.5">v01_016</text></g>
<g id="o_v01_018" transform="translate(685,1232.5)"><rect class="b" y="-21" width="55" height="42"/><text class="t" x="27.5" y="3.5">v01_018</text></g>
<g id="o_v07_005" transform="translate(685,1285.5)"><rect class="b" y="-21" width="55" height="42"/><text class="t" x="27.5" y="3.5">v07_005</text></g>
<g id="o_v07_006" transform="translate(685,1339)"><rect class="b" y="-21" width="55" height="42"/><text class="t" x="27.5" y="3.5">v07_006</text></g>
<g id="o_v07_009" transform="translate(685,1393)"><rect class="b" y="-21" width="55" height="42"/><text class="t" x="27.5" y="3.5">v07_009</text></g>
<g id="o_v03_001" transform="translate(685,1447.5)"><rect class="b" y="-21" width="55" height="42"/><text class="t" x="27.5" y="3.5">v03_001</text></g>
<g id="o_v03_005" transform="translate(685,1501.5)"><rect class="b" y="-21" width="55" height="42"/><text class="t" x="27.5" y="3.5">v03_005</text></g>
<g id="o_v03_008" transform="translate(685,1554.5)"><rect class="b" y="-21" width="55" height="42"/><text class="t" x="27.5" y="3.5">v03_008</text></g>

<g id="o_v06_002" transform="translate(1011,50)"><rect class="b" y="-21" width="55" height="42"/><text class="t" x="27.5" y="3.5">v06_002</text></g>
<g id="o_v06_004" transform="translate(1011,104)"><rect class="b" y="-21" width="55" height="42"/><text class="t" x="27.5" y="3.5">v06_004</text></g>
<g id="o_v06_008" transform="translate(1011,157)"><rect class="b" y="-21" width="55" height="42"/><text class="t" x="27.5" y="3.5">v06_008</text></g>
<g id="o_v06_011" transform="translate(1011,210.5)"><rect class="b" y="-21" width="55" height="42"/><text class="t" x="27.5" y="3.5">v06_011</text></g>
<g id="o_v11_007" transform="translate(1011,269.5)"><rect class="b" y="-21" width="55" height="42"/><text class="t" x="27.5" y="3.5">v11_007</text></g>
<g id="o_v11_008" transform="translate(1011,322.5)"><rect class="b" y="-21" width="55" height="42"/><text class="t" x="27.5" y="3.5">v11_008</text></g>
<g id="o_v11_009" transform="translate(1011,376)"><rect class="b" y="-21" width="55" height="42"/><text class="t" x="27.5" y="3.5">v11_009</text></g>
<g id="o_v11_004" transform="translate(1011,428.5)"><rect class="b" y="-21" width="55" height="42"/><text class="t" x="27.5" y="3.5">v11_004</text></g>
<g id="o_v11_005" transform="translate(1011,482.5)"><rect class="b" y="-21" width="55" height="42"/><text class="t" x="27.5" y="3.5">v11_005</text></g>
<g id="o_v11_006" transform="translate(1011,536)"><rect class="b" y="-21" width="55" height="42"/><text class="t" x="27.5" y="3.5">v11_006</text></g>
<g id="o_v11_001" transform="translate(1011,591.5)"><rect class="b" y="-21" width="55" height="42"/><text class="t" x="27.5" y="3.5">v11_001</text></g>
<g id="o_v11_002" transform="translate(1011,644)"><rect class="b" y="-21" width="55" height="42"/><text class="t" x="27.5" y="3.5">v11_002</text></g>
<g id="o_v11_003" transform="translate(1011,698)"><rect class="b" y="-21" width="55" height="42"/><text class="t" x="27.5" y="3.5">v11_003</text></g>
<g id="o_v09_002" transform="translate(1011,753)"><rect class="b" y="-21" width="55" height="42"/><text class="t" x="27.5" y="3.5">v09_002</text></g>
<g id="o_v09_007" transform="translate(1011,806.5)"><rect class="b" y="-21" width="55" height="42"/><text class="t" x="27.5" y="3.5">v09_007</text></g>
<g id="o_v09_009" transform="translate(1011,860)"><rect class="b" y="-21" width="55" height="42"/><text class="t" x="27.5" y="3.5">v09_009</text></g>
<g id="o_v09_015" transform="translate(1011,913.5)"><rect class="b" y="-21" width="55" height="42"/><text class="t" x="27.5" y="3.5">v09_015</text></g>
<g id="o_v09_004" transform="translate(1012,970.5)"><rect class="b" y="-21" width="55" height="42"/><text class="t" x="27.5" y="3.5">v09_004</text></g>
<g id="o_v09_005" transform="translate(1012,1024)"><rect class="b" y="-21" width="55" height="42"/><text class="t" x="27.5" y="3.5">v09_005</text></g>
<g id="o_v09_011" transform="translate(1012,1077.5)"><rect class="b" y="-21" width="55" height="42"/><text class="t" x="27.5" y="3.5">v09_011</text></g>
<g id="o_v09_013" transform="translate(1012,1130.5)"><rect class="b" y="-21" width="55" height="42"/><text class="t" x="27.5" y="3.5">v09_013</text></g>
<g id="o_v12_001" transform="translate(1013.5,1188)"><rect class="b" y="-21" width="55" height="42"/><text class="t" x="27.5" y="3.5">v12_001</text></g>
<g id="o_v12_003" transform="translate(1013.5,1241.5)"><rect class="b" y="-21" width="55" height="42"/><text class="t" x="27.5" y="3.5">v12_003</text></g>
<g id="o_v12_006" transform="translate(1013.5,1295)"><rect class="b" y="-21" width="55" height="42"/><text class="t" x="27.5" y="3.5">v12_006</text></g>
<g id="o_v12_009" transform="translate(1013.5,1347.5)"><rect class="b" y="-21" width="55" height="42"/><text class="t" x="27.5" y="3.5">v12_009</text></g>
<g id="o_v12_004" transform="translate(1013.5,1402.5)"><rect class="b" y="-21" width="55" height="42"/><text class="t" x="27.5" y="3.5">v12_004</text></g>
<g id="o_v12_007" transform="translate(1013.5,1456)"><rect class="b" y="-21" width="55" height="42"/><text class="t" x="27.5" y="3.5">v12_007</text></g>
<g id="o_v12_002" transform="translate(1013.5,1511)"><rect class="b" y="-21" width="55" height="42"/><text class="t" x="27.5" y="3.5">v12_002</text></g>
<g id="o_v12_005" transform="translate(1013.5,1563.5)"><rect class="b" y="-21" width="55" height="42"/><text class="t" x="27.5" y="3.5">v12_005</text></g>
<g id="o_v12_008" transform="translate(1013.5,1617)"><rect class="b" y="-21" width="55" height="42"/><text class="t" x="27.5" y="3.5">v12_008</text></g>
</g>

<g id="errors">
<g id="e1" transform="translate(43,49)"><circle class="c" r="10"/><text class="et" y="3.5">ε<tspan class="s" dy="1.5">1</tspan></text></g>
<g id="e2" transform="translate(43,103)"><circle class="c" r="10"/><text class="et" y="3.5">ε<tspan class="s" dy="1.5">2</tspan></text></g>
<g id="e3" transform="translate(43,155.5)"><circle class="c" r="10"/><text class="et" y="3.5">ε<tspan class="s" dy="1.5">3</tspan></text></g>
<g id="e4" transform="translate(43,210)"><circle class="c" r="10"/><text class="et" y="3.5">ε<tspan class="s" dy="1.5">4</tspan></text></g>
<g id="e5" transform="translate(43,263)"><circle class="c" r="10"/><text class="et" y="3.5">ε<tspan class="s" dy="1.5">5</tspan></text></g>
<g id="e6" transform="translate(43,316.5)"><circle class="c" r="10"/><text class="et" y="3.5">ε<tspan class="s" dy="1.5">6</tspan></text></g>
<g id="e7" transform="translate(43,371)"><circle class="c" r="10"/><text class="et" y="3.5">ε<tspan class="s" dy="1.5">7</tspan></text></g>
<g id="e8" transform="translate(43,425)"><circle class="c" r="10"/><text class="et" y="3.5">ε<tspan class="s" dy="1.5">8</tspan></text></g>
<g id="e9" transform="translate(43,477.5)"><circle class="c" r="10"/><text class="et" y="3.5">ε<tspan class="s" dy="1.5">9</tspan></text></g>
<g id="e10" transform="translate(43,532.5)"><circle class="c" r="10"/><text class="et" y="3.5">ε<tspan class="s" dy="1.5">10</tspan></text></g>
<g id="e11" transform="translate(43,587.5)"><circle class="c" r="10"/><text class="et" y="3.5">ε<tspan class="s" dy="1.5">11</tspan></text></g>
<g id="e12" transform="translate(43,641)"><circle class="c" r="10"/><text class="et" y="3.5">ε<tspan class="s" dy="1.5">12</tspan></text></g>
<g id="e13" transform="translate(43,694.5)"><circle class="c" r="10"/><text class="et" y="3.5">ε<tspan class="s" dy="1.5">13</tspan></text></g>
<g id="e14" transform="translate(43,749.5)"><circle class="c" r="10"/><text class="et" y="3.5">ε<tspan class="s" dy="1.5">14</tspan></text></g>
<g id="e15" transform="translate(43,802.5)"><circle class="c" r="10"/><text class="et" y="3.5">ε<tspan class="s" dy="1.5">15</tspan></text></g>
<g id="e16" transform="translate(43,855.5)"><circle class="c" r="10"/><text class="et" y="3.5">ε<tspan class="s" dy="1.5">16</tspan></text></g>
<g id="e17" transform="translate(43,909)"><circle class="c" r="10"/><text class="et" y="3.5">ε<tspan class="s" dy="1.5">17</tspan></text></g>
<g id="e18" transform="translate(43,963)"><circle class="c" r="10"/><text class="et" y="3.5">ε<tspan class="s" dy="1.5">18</tspan></text></g>
<g id="e19" transform="translate(43,1017)"><circle class="c" r="10"/><text class="et" y="3.5">ε<tspan class="s" dy="1.5">19</tspan></text></g>
<g id="e20" transform="translate(43,1070.5)"><circle class="c" r="10"/><text class="et" y="3.5">ε<tspan class="s" dy="1.5">20</tspan></text></g>
<g id="e21" transform="translate(43,1124)"><circle class="c" r="10"/><text class="et" y="3.5">ε<tspan class="s" dy="1.5">21</tspan></text></g>
<g id="e22" transform="translate(43,1177.5)"><circle class="c" r="10"/><text class="et" y="3.5">ε<tspan class="s" dy="1.5">22</tspan></text></g>
<g id="e23" transform="translate(43,1230.5)"><circle class="c" r="10"/><text class="et" y="3.5">ε<tspan class="s" dy="1.5">23</tspan></text></g>
<g id="e24" transform="translate(43,1284.5)"><circle class="c" r="10"/><text class="et" y="3.5">ε<tspan class="s" dy="1.5">24</tspan></text></g>
<g id="e25" transform="translate(43,1340.5)"><circle class="c" r="10"/><text class="et" y="3.5">ε<tspan class="s" dy="1.5">25</tspan></text></g>
<g id="e26" transform="translate(43,1394)"><circle class="c" r="10"/><text class="et" y="3.5">ε<tspan class="s" dy="1.5">26</tspan></text></g>
<g id="e27" transform="translate(43,1447)"><circle class="c" r="10"/><text class="et" y="3.5">ε<tspan class="s" dy="1.5">27</tspan></text></g>
<g id="e28" transform="translate(43,1501.5)"><circle class="c" r="10"/><text class="et" y="3.5">ε<tspan class="s" dy="1.5">28</tspan></text></g>
<g id="e29" transform="translate(43,1554)"><circle class="c" r="10"/><text class="et" y="3.5">ε<tspan class="s" dy="1.5">29</tspan></text></g>
<g id="e30" transform="translate(43,1606.5)"><circle class="c" r="10"/><text class="et" y="3.5">ε<tspan class="s" dy="1.5">30</tspan></text></g>

<g id="e31" transform="translate(345,49)"><circle class="c" r="10"/><text class="et" y="3.5">ε<tspan class="s" dy="1.5">31</tspan></text></g>
<g id="e32" transform="translate(345,102.5)"><circle class="c" r="10"/><text class="et" y="3.5">ε<tspan class="s" dy="1.5">32</tspan></text></g>
<g id="e33" transform="translate(345,156)"><circle class="c" r="10"/><text class="et" y="3.5">ε<tspan class="s" dy="1.5">33</tspan></text></g>
<g id="e34" transform="translate(345,209)"><circle class="c" r="10"/><text class="et" y="3.5">ε<tspan class="s" dy="1.5">34</tspan></text></g>
<g id="e35" transform="translate(345,262.5)"><circle class="c" r="10"/><text class="et" y="3.5">ε<tspan class="s" dy="1.5">35</tspan></text></g>
<g id="e36" transform="translate(345,315.5)"><circle class="c" r="10"/><text class="et" y="3.5">ε<tspan class="s" dy="1.5">36</tspan></text></g>
<g id="e37" transform="translate(345,369.5)"><circle class="c" r="10"/><text class="et" y="3.5">ε<tspan class="s" dy="1.5">37</tspan></text></g>
<g id="e38" transform="translate(345,424.5)"><circle class="c" r="10"/><text class="et" y="3.5">ε<tspan class="s" dy="1.5">38</tspan></text></g>
<g id="e39" transform="translate(345,477)"><circle class="c" r="10"/><text class="et" y="3.5">ε<tspan class="s" dy="1.5">39</tspan></text></g>
<g id="e40" transform="translate(345,531.5)"><circle class="c" r="10"/><text class="et" y="3.5">ε<tspan class="s" dy="1.5">40</tspan></text></g>
<g id="e41" transform="translate(345,584)"><circle class="c" r="10"/><text class="et" y="3.5">ε<tspan class="s" dy="1.5">41</tspan></text></g>
<g id="e42" transform="translate(345,637.5)"><circle class="c" r="10"/><text class="et" y="3.5">ε<tspan class="s" dy="1.5">42</tspan></text></g>
<g id="e43" transform="translate(345,691.5)"><circle class="c" r="10"/><text class="et" y="3.5">ε<tspan class="s" dy="1.5">43</tspan></text></g>
<g id="e44" transform="translate(345,744)"><circle class="c" r="10"/><text class="et" y="3.5">ε<tspan class="s" dy="1.5">44</tspan></text></g>
<g id="e45" transform="translate(345,798)"><circle class="c" r="10"/><text class="et" y="3.5">ε<tspan class="s" dy="1.5">45</tspan></text></g>
<g id="e46" transform="translate(345,851)"><circle class="c" r="10"/><text class="et" y="3.5">ε<tspan class="s" dy="1.5">46</tspan></text></g>
<g id="e47" transform="translate(345,909)"><circle class="c" r="10"/><text class="et" y="3.5">ε<tspan class="s" dy="1.5">47</tspan></text></g>
<g id="e48" transform="translate(345,962)"><circle class="c" r="10"/><text class="et" y="3.5">ε<tspan class="s" dy="1.5">48</tspan></text></g>
<g id="e49" transform="translate(345,1016)"><circle class="c" r="10"/><text class="et" y="3.5">ε<tspan class="s" dy="1.5">49</tspan></text></g>
<g id="e50" transform="translate(345,1071.5)"><circle class="c" r="10"/><text class="et" y="3.5">ε<tspan class="s" dy="1.5">50</tspan></text></g>
<g id="e51" transform="translate(345,1125)"><circle class="c" r="10"/><text class="et" y="3.5">ε<tspan class="s" dy="1.5">51</tspan></text></g>
<g id="e52" transform="translate(345,1178)"><circle class="c" r="10"/><text class="et" y="3.5">ε<tspan class="s" dy="1.5">52</tspan></text></g>
<g id="e53" transform="translate(345,1231.5)"><circle class="c" r="10"/><text class="et" y="3.5">ε<tspan class="s" dy="1.5">53</tspan></text></g>
<g id="e54" transform="translate(346.5,1284.5)"><circle class="c" r="10"/><text class="et" y="3.5">ε<tspan class="s" dy="1.5">54</tspan></text></g>
<g id="e55" transform="translate(346.5,1337.5)"><circle class="c" r="10"/><text class="et" y="3.5">ε<tspan class="s" dy="1.5">55</tspan></text></g>
<g id="e56" transform="translate(346.5,1390.5)"><circle class="c" r="10"/><text class="et" y="3.5">ε<tspan class="s" dy="1.5">56</tspan></text></g>
<g id="e57" transform="translate(348,1444)"><circle class="c" r="10"/><text class="et" y="3.5">ε<tspan class="s" dy="1.5">57</tspan></text></g>
<g id="e58" transform="translate(348,1497.5)"><circle class="c" r="10"/><text class="et" y="3.5">ε<tspan class="s" dy="1.5">58</tspan></text></g>
<g id="e59" transform="translate(348,1551)"><circle class="c" r="10"/><text class="et" y="3.5">ε<tspan class="s" dy="1.5">59</tspan></text></g>

<g id="e60" transform="translate(659,46.5)"><circle class="c" r="10"/><text class="et" y="3.5">ε<tspan class="s" dy="1.5">60</tspan></text></g>
<g id="e61" transform="translate(659,100)"><circle class="c" r="10"/><text class="et" y="3.5">ε<tspan class="s" dy="1.5">61</tspan></text></g>
<g id="e62" transform="translate(659,153.5)"><circle class="c" r="10"/><text class="et" y="3.5">ε<tspan class="s" dy="1.5">62</tspan></text></g>
<g id="e63" transform="translate(659,207)"><circle class="c" r="10"/><text class="et" y="3.5">ε<tspan class="s" dy="1.5">63</tspan></text></g>
<g id="e64" transform="translate(659,260.5)"><circle class="c" r="10"/><text class="et" y="3.5">ε<tspan class="s" dy="1.5">64</tspan></text></g>
<g id="e65" transform="translate(659,315)"><circle class="c" r="10"/><text class="et" y="3.5">ε<tspan class="s" dy="1.5">65</tspan></text></g>
<g id="e66" transform="translate(659,369.5)"><circle class="c" r="10"/><text class="et" y="3.5">ε<tspan class="s" dy="1.5">66</tspan></text></g>
<g id="e67" transform="translate(659,422.5)"><circle class="c" r="10"/><text class="et" y="3.5">ε<tspan class="s" dy="1.5">67</tspan></text></g>
<g id="e68" transform="translate(659,476.5)"><circle class="c" r="10"/><text class="et" y="3.5">ε<tspan class="s" dy="1.5">68</tspan></text></g>
<g id="e69" transform="translate(659,529.5)"><circle class="c" r="10"/><text class="et" y="3.5">ε<tspan class="s" dy="1.5">69</tspan></text></g>
<g id="e70" transform="translate(659,585.5)"><circle class="c" r="10"/><text class="et" y="3.5">ε<tspan class="s" dy="1.5">70</tspan></text></g>
<g id="e71" transform="translate(659,639)"><circle class="c" r="10"/><text class="et" y="3.5">ε<tspan class="s" dy="1.5">71</tspan></text></g>
<g id="e72" transform="translate(659,692.5)"><circle class="c" r="10"/><text class="et" y="3.5">ε<tspan class="s" dy="1.5">72</tspan></text></g>
<g id="e73" transform="translate(659,746)"><circle class="c" r="10"/><text class="et" y="3.5">ε<tspan class="s" dy="1.5">73</tspan></text></g>
<g id="e74" transform="translate(659,802.5)"><circle class="c" r="10"/><text class="et" y="3.5">ε<tspan class="s" dy="1.5">74</tspan></text></g>
<g id="e75" transform="translate(659,855.5)"><circle class="c" r="10"/><text class="et" y="3.5">ε<tspan class="s" dy="1.5">75</tspan></text></g>
<g id="e76" transform="translate(659,909)"><circle class="c" r="10"/><text class="et" y="3.5">ε<tspan class="s" dy="1.5">76</tspan></text></g>
<g id="e79" transform="translate(659,963.5)"><circle class="c" r="10"/><text class="et" y="3.5">ε<tspan class="s" dy="1.5">79</tspan></text></g>
<g id="e80" transform="translate(659,1017)"><circle class="c" r="10"/><text class="et" y="3.5">ε<tspan class="s" dy="1.5">80</tspan></text></g>
<g id="e81" transform="translate(659,1070.5)"><circle class="c" r="10"/><text class="et" y="3.5">ε<tspan class="s" dy="1.5">81</tspan></text></g>
<g id="e77" transform="translate(659,1125.5)"><circle class="c" r="10"/><text class="et" y="3.5">ε<tspan class="s" dy="1.5">77</tspan></text></g>
<g id="e78" transform="translate(659,1179.5)"><circle class="c" r="10"/><text class="et" y="3.5">ε<tspan class="s" dy="1.5">78</tspan></text></g>
<g id="e118" transform="translate(659,1232.5)"><circle class="c" r="10"/><text class="et" y="3.5">ε<tspan class="s" dy="1.5">118</tspan></text></g>
<g id="e82" transform="translate(659,1285.5)"><circle class="c" r="10"/><text class="et" y="3.5">ε<tspan class="s" dy="1.5">82</tspan></text></g>
<g id="e83" transform="translate(659,1339)"><circle class="c" r="10"/><text class="et" y="3.5">ε<tspan class="s" dy="1.5">83</tspan></text></g>
<g id="e84" transform="translate(659,1393)"><circle class="c" r="10"/><text class="et" y="3.5">ε<tspan class="s" dy="1.5">84</tspan></text></g>
<g id="e85" transform="translate(659,1447.5)"><circle class="c" r="10"/><text class="et" y="3.5">ε<tspan class="s" dy="1.5">85</tspan></text></g>
<g id="e86" transform="translate(659,1501.5)"><circle class="c" r="10"/><text class="et" y="3.5">ε<tspan class="s" dy="1.5">86</tspan></text></g>
<g id="e87" transform="translate(659,1554.5)"><circle class="c" r="10"/><text class="et" y="3.5">ε<tspan class="s" dy="1.5">87</tspan></text></g>

<g id="e88" transform="translate(987,50)"><circle class="c" r="10"/><text class="et" y="3.5">ε<tspan class="s" dy="1.5">88</tspan></text></g>
<g id="e89" transform="translate(987,104)"><circle class="c" r="10"/><text class="et" y="3.5">ε<tspan class="s" dy="1.5">89</tspan></text></g>
<g id="e90" transform="translate(987,157)"><circle class="c" r="10"/><text class="et" y="3.5">ε<tspan class="s" dy="1.5">90</tspan></text></g>
<g id="e91" transform="translate(987,210.5)"><circle class="c" r="10"/><text class="et" y="3.5">ε<tspan class="s" dy="1.5">91</tspan></text></g>
<g id="e92" transform="translate(987,269.5)"><circle class="c" r="10"/><text class="et" y="3.5">ε<tspan class="s" dy="1.5">92</tspan></text></g>
<g id="e93" transform="translate(987,322.5)"><circle class="c" r="10"/><text class="et" y="3.5">ε<tspan class="s" dy="1.5">93</tspan></text></g>
<g id="e94" transform="translate(987,376)"><circle class="c" r="10"/><text class="et" y="3.5">ε<tspan class="s" dy="1.5">94</tspan></text></g>
<g id="e95" transform="translate(987,428.5)"><circle class="c" r="10"/><text class="et" y="3.5">ε<tspan class="s" dy="1.5">95</tspan></text></g>
<g id="e96" transform="translate(987,482.5)"><circle class="c" r="10"/><text class="et" y="3.5">ε<tspan class="s" dy="1.5">96</tspan></text></g>
<g id="e97" transform="translate(987,536)"><circle class="c" r="10"/><text class="et" y="3.5">ε<tspan class="s" dy="1.5">97</tspan></text></g>
<g id="e98" transform="translate(987,591.5)"><circle class="c" r="10"/><text class="et" y="3.5">ε<tspan class="s" dy="1.5">98</tspan></text></g>
<g id="e99" transform="translate(987,644)"><circle class="c" r="10"/><text class="et" y="3.5">ε<tspan class="s" dy="1.5">99</tspan></text></g>
<g id="e100" transform="translate(987,698)"><circle class="c" r="10"/><text class="et" y="3.5">ε<tspan class="s" dy="1.5">100</tspan></text></g>
<g id="e101" transform="translate(987,753)"><circle class="c" r="10"/><text class="et" y="3.5">ε<tspan class="s" dy="1.5">101</tspan></text></g>
<g id="e102" transform="translate(987,806.5)"><circle class="c" r="10"/><text class="et" y="3.5">ε<tspan class="s" dy="1.5">102</tspan></text></g>
<g id="e103" transform="translate(987,860)"><circle class="c" r="10"/><text class="et" y="3.5">ε<tspan class="s" dy="1.5">103</tspan></text></g>
<g id="e104" transform="translate(987,913.5)"><circle class="c" r="10"/><text class="et" y="3.5">ε<tspan class="s" dy="1.5">104</tspan></text></g>
<g id="e105" transform="translate(988,970.5)"><circle class="c" r="10"/><text class="et" y="3.5">ε<tspan class="s" dy="1.5">105</tspan></text></g>
<g id="e106" transform="translate(988,1024)"><circle class="c" r="10"/><text class="et" y="3.5">ε<tspan class="s" dy="1.5">106</tspan></text></g>
<g id="e107" transform="translate(988,1077.5)"><circle class="c" r="10"/><text class="et" y="3.5">ε<tspan class="s" dy="1.5">107</tspan></text></g>
<g id="e108" transform="translate(988,1130.5)"><circle class="c" r="10"/><text class="et" y="3.5">ε<tspan class="s" dy="1.5">108</tspan></text></g>
<g id="e109" transform="translate(989.5,1188)"><circle class="c" r="10"/><text class="et" y="3.5">ε<tspan class="s" dy="1.5">109</tspan></text></g>
<g id="e110" transform="translate(989.5,1241.5)"><circle class="c" r="10"/><text class="et" y="3.5">ε<tspan class="s" dy="1.5">110</tspan></text></g>
<g id="e111" transform="translate(989.5,1295)"><circle class="c" r="10"/><text class="et" y="3.5">ε<tspan class="s" dy="1.5">111</tspan></text></g>
<g id="e112" transform="translate(989.5,1347.5)"><circle class="c" r="10"/><text class="et" y="3.5">ε<tspan class="s" dy="1.5">112</tspan></text></g>
<g id="e113" transform="translate(989.5,1402.5)"><circle class="c" r="10"/><text class="et" y="3.5">ε<tspan class="s" dy="1.5">113</tspan></text></g>
<g id="e114" transform="translate(989.5,1456)"><circle class="c" r="10"/><text class="et" y="3.5">ε<tspan class="s" dy="1.5">114</tspan></text></g>
<g id="e115" transform="translate(989.5,1511)"><circle class="c" r="10"/><text class="et" y="3.5">ε<tspan class="s" dy="1.5">115</tspan></text></g>
<g id="e116" transform="translate(989.5,1563.5)"><circle class="c" r="10"/><text class="et" y="3.5">ε<tspan class="s" dy="1.5">116</tspan></text></g>
<g id="e117" transform="translate(989.5,1617)"><circle class="c" r="10"/><text class="et" y="3.5">ε<tspan class="s" dy="1.5">117</tspan></text></g>
</g>
</svg>
